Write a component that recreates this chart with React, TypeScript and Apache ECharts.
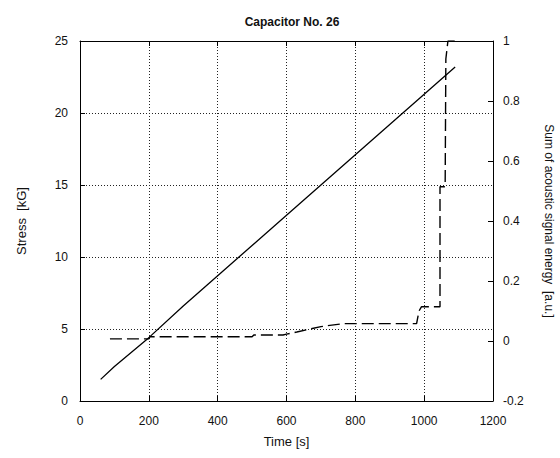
import React, { useEffect, useRef } from "react";
import * as echarts from "echarts";

const stressTime = [60, 100, 200, 300, 400, 500, 600, 700, 800, 900, 1000, 1090];
const stressValues = [1.5, 2.4, 4.4, 6.6, 8.7, 10.8, 12.9, 15.0, 17.1, 19.2, 21.3, 23.2];

const energyTime = [87, 200, 203, 500, 505, 590, 600, 630, 700, 765, 978, 985, 992, 1046, 1046, 1061, 1063, 1069, 1090];
const energyValues = [0.007, 0.007, 0.014, 0.014, 0.02, 0.02, 0.023, 0.03, 0.048, 0.058, 0.058, 0.1, 0.114, 0.114, 0.514, 0.514, 0.94, 1.0, 1.0];

const titleText = "Capacitor No. 26";
const xName = "Time [s]";
const yLeftName = "Stress  [kG]";
const yRightName = "Sum of acoustic signal energy  [a.u.]";

export default function App() {
  const ref = useRef<HTMLDivElement>(null);
  useEffect(() => {
    if (!ref.current) return;
    const chart = echarts.init(ref.current, null, { renderer: "svg" });
    const font = "Liberation Sans";
    const txt = { color: "#111", fontFamily: font, fontSize: 12 };
    const axisLine = { show: true, onZero: false, lineStyle: { color: "#000", width: 1 } };
    const tick = { show: true, inside: true, length: 5, lineStyle: { color: "#000" } };
    const grid = { show: true, lineStyle: { color: "#222", type: [1, 2], width: 1 } };
    chart.setOption({
      animation: false,
      backgroundColor: "#fff",
      title: {
        text: titleText,
        left: 287,
        top: 11,
        textAlign: "center",
        textStyle: { fontFamily: font, fontSize: 12, fontWeight: "bold", color: "#111" },
      },
      grid: { left: 80, right: 67, top: 41, bottom: 57, containLabel: false, outerBoundsMode: "none" },
      xAxis: [
        {
          type: "value",
          min: 0,
          max: 1200,
          interval: 200,
          name: xName,
          nameLocation: "middle",
          nameGap: 34,
          nameTextStyle: { ...txt, fontSize: 13 },
          axisLine,
          axisTick: tick,
          axisLabel: { ...txt, margin: 14, formatter: (v: number) => String(v) },
          splitLine: grid,
        },
        {
          type: "value",
          position: "top",
          min: 0,
          max: 1200,
          interval: 200,
          axisLine,
          axisTick: tick,
          axisLabel: { show: false },
          splitLine: { show: false },
        },
      ],
      yAxis: [
        {
          type: "value",
          min: 0,
          max: 25,
          interval: 5,
          name: yLeftName,
          nameLocation: "middle",
          nameGap: 52,
          nameTextStyle: { ...txt, fontSize: 13 },
          axisLine,
          axisTick: tick,
          axisLabel: { ...txt, margin: 12 },
          splitLine: grid,
        },
        {
          type: "value",
          position: "right",
          min: -0.2,
          max: 1,
          interval: 0.2,
          name: yRightName,
          nameLocation: "middle",
          nameRotate: -90,
          nameGap: 50,
          nameTextStyle: { ...txt, fontSize: 12 },
          axisLine,
          axisTick: tick,
          axisLabel: { ...txt, margin: 10, formatter: (v: number) => String(Math.round(v * 10) / 10) },
          splitLine: { show: false },
        },
      ],
      series: [
        {
          type: "line",
          xAxisIndex: 0,
          yAxisIndex: 0,
          data: stressTime.map((t, i) => [t, stressValues[i]]),
          showSymbol: false,
          lineStyle: { color: "#000", width: 1.3 },
        },
        {
          type: "line",
          xAxisIndex: 0,
          yAxisIndex: 1,
          data: energyTime.map((t, i) => [t, energyValues[i]]),
          showSymbol: false,
          lineStyle: { color: "#000", width: 1.4, type: [12, 5] },
        },
      ],
    });
    return () => chart.dispose();
  }, []);
  return <div ref={ref} style={{ position: "fixed", left: 0, top: 0, width: 560, height: 458 }} />;
}
